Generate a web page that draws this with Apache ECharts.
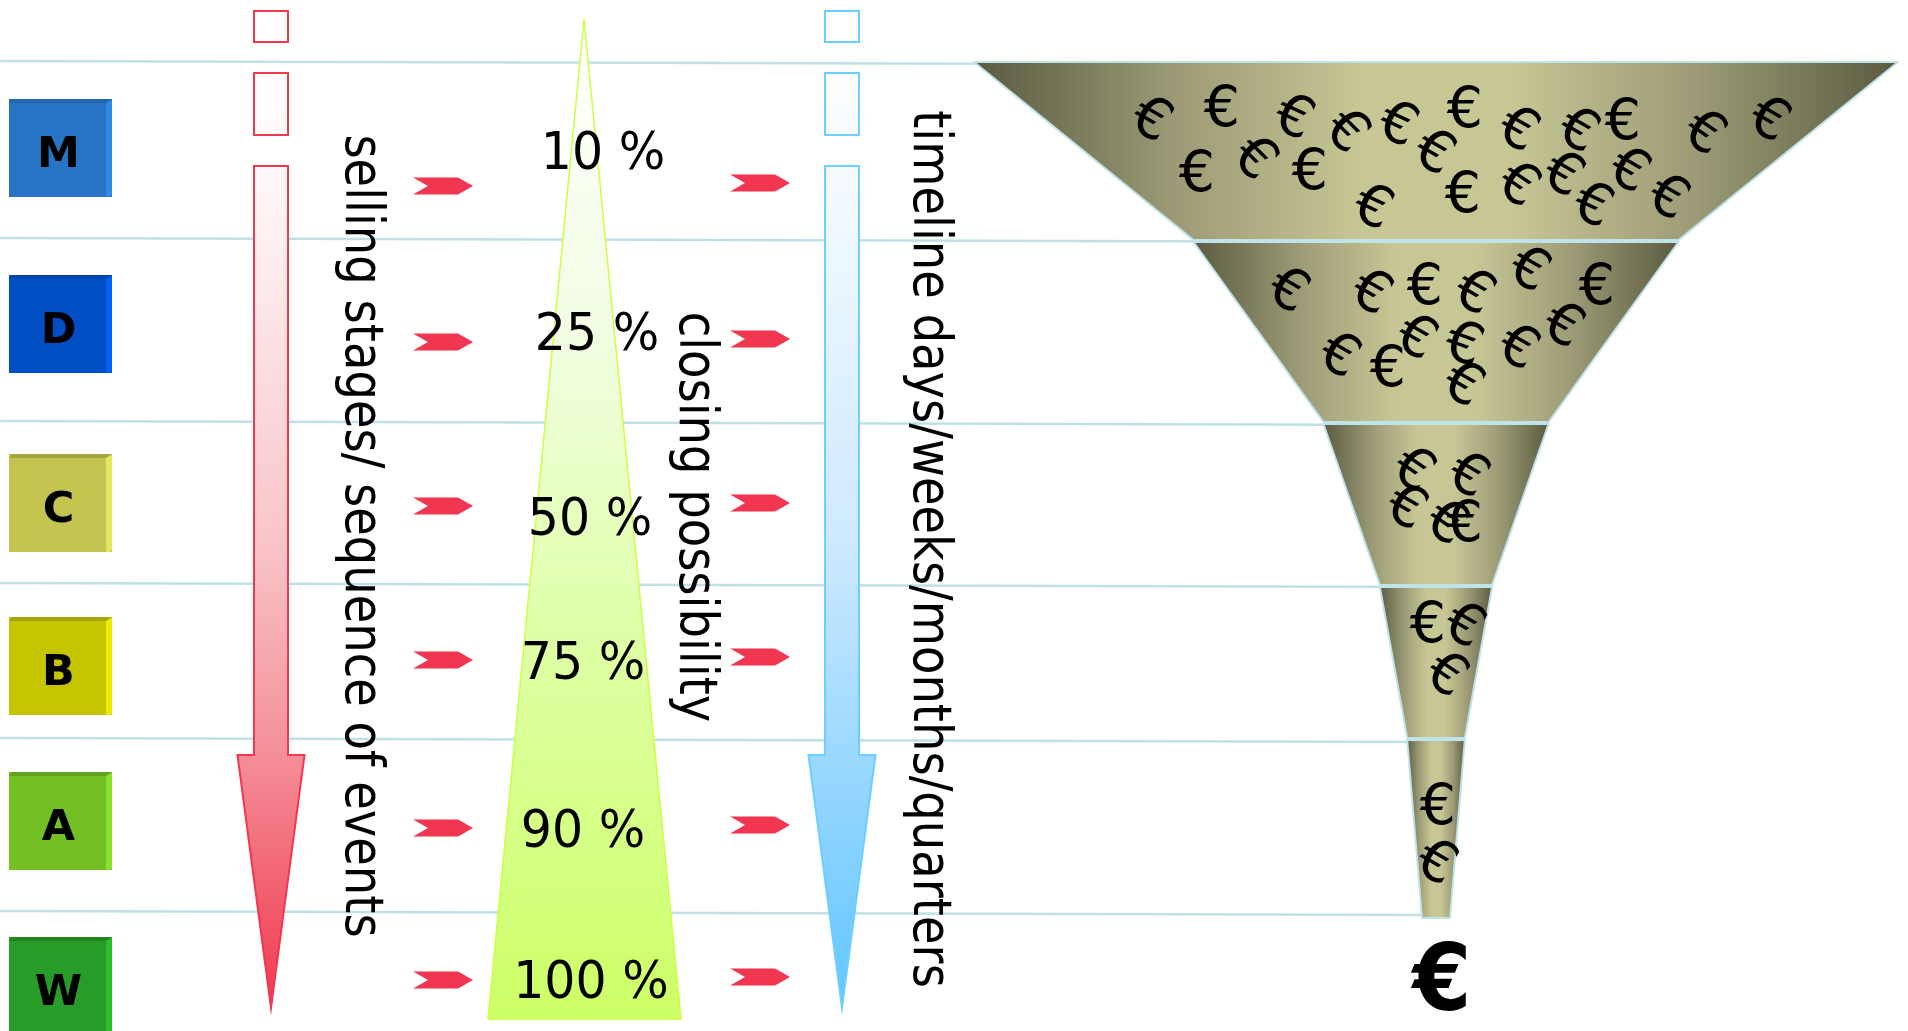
<!DOCTYPE html>
<html>
<head>
<meta charset="utf-8">
<title>Sales funnel</title>
<script src="https://cdn.jsdelivr.net/npm/echarts@6/dist/echarts.min.js"></script>
<style>
  html, body { margin: 0; padding: 0; background: #ffffff; }
  #chart { width: 1908px; height: 1031px; }
</style>
</head>
<body>
<div id="chart"></div>
<script>
// ---- data ----------------------------------------------------------------
// Selling stages, first contact (M) down to the won deal (W)
const STAGES = ['M', 'D', 'C', 'B', 'A', 'W'];
// Closing possibility per stage, in percent
const CLOSING = [10, 25, 50, 75, 90, 100];
// Pipeline volume per funnel segment (relative, M = 100)
const FUNNEL_STAGES = ['M', 'D', 'C', 'B', 'A'];
const FUNNEL_VOLUME = [100, 51, 22, 9.4, 3.3];
// Column captions
const CAPTION_STAGES = 'selling stages/ sequence of events';
const CAPTION_CLOSING = 'closing possibility';
const CAPTION_TIME = 'timeline days/weeks/months/quarters';
// Deals inside the funnel: [x, y, tilt in degrees] in diagram units
const DEALS = [
  [1150, 122, -30], [1222, 112, 0], [1293, 120, -25], [1197, 177, 0], [1253, 160, -45],
  [1310, 175, 0], [1345, 133, -45], [1397, 127, -25], [1433, 155, -30], [1465, 113, 0],
  [1372, 210, -25], [1463, 198, 0], [1517, 132, -30], [1577, 133, -30], [1623, 125, 0],
  [1703, 135, -35], [1768, 122, -30], [1517, 187, -35], [1562, 177, -30], [1592, 208, -25],
  [1628, 173, -30], [1667, 200, -30],
  [1287, 293, -30], [1370, 295, -30], [1425, 290, 0], [1473, 295, -30], [1528, 272, -30],
  [1597, 290, 0], [1338, 358, -30], [1388, 372, 0], [1415, 340, -30], [1463, 347, -20],
  [1462, 387, -30], [1517, 350, -30], [1562, 328, -30],
  [1412, 472, -35], [1467, 478, -30], [1405, 510, -30], [1445, 525, -35], [1465, 527, 0],
  [1428, 628, 0], [1463, 628, -30], [1445, 677, -35],
  [1438, 810, 0], [1435, 865, -30]
];
// The closed deal under the funnel
const WON = [[1442, 986]];

// ---- layout --------------------------------------------------------------
const VIEW_W = 1908, VIEW_H = 1031;
const FUNNEL = { left: 974, top: 62, width: 924, neck: 28, gap: 2, cx: 1436 };
const SEG_HEIGHTS = [178, 180, 161, 151, 178];
const RULE_Y = [64, 241, 424, 586, 741, 914];
const BOX = { x: 9, w: 103, h: 98 };
const BOX_TOP = [99, 275, 454, 617, 772, 937];
const CHEVRON_X = [413, 730];
const CHEVRON_Y = [186, 342, 506, 660, 828, 980];
const CHEVRON_SHIFT = [0, -3];
const PCT_POS = [[603, 156], [597, 337], [590, 522], [583, 666], [583, 834], [591, 985]];
const ARROW = { w: 34, cap1: [11, 42], cap2: [73, 135], shaftTop: 166, headTop: 755, headHalf: 33.5, tip: 1008 };
const GUIDES = [
  { x: 254, stroke: '#f0384f', stops: [[0, '#fefafa'], [0.45, '#f8c4c9'], [0.7, '#f48e97'], [1, '#f0384f']] },
  { x: 825, stroke: '#6ccfff', stops: [[0, '#f6fbff'], [0.45, '#cde9ff'], [0.7, '#9bd8ff'], [1, '#62c6ff']] }
];
const TRIANGLE = { apex: [584, 19], base: [[681, 1019], [488, 1019]] };
const CAPTIONS = [
  { text: CAPTION_STAGES, x: 360, y: 536 },
  { text: CAPTION_CLOSING, x: 694, y: 517 },
  { text: CAPTION_TIME, x: 928, y: 549 }
];

// ---- styles --------------------------------------------------------------
const FONT = '"DejaVu Sans", Verdana, sans-serif';
const RULE_COLOR = '#bfe1e6';
const BOX_COLORS = [
  { main: '#2873c3', top: '#2465ae', side: '#2f8ae6' },
  { main: '#004ec4', top: '#0045ae', side: '#0062f0' },
  { main: '#c4c450', top: '#a6a63e', side: '#e6e65e' },
  { main: '#c4c400', top: '#a6a400', side: '#ecec00' },
  { main: '#74c024', top: '#60a21c', side: '#88e22a' },
  { main: '#289c28', top: '#218421', side: '#2cbc2c' }
];
const CHEVRON_COLOR = '#f0374f';
const FUNNEL_FILL = {
  type: 'linear', x: 0, y: 0, x2: 1, y2: 0,
  colorStops: [
    { offset: 0, color: '#5a5a40' }, { offset: 0.22, color: '#9c9b76' },
    { offset: 0.42, color: '#c7c695' }, { offset: 0.58, color: '#c7c695' },
    { offset: 0.78, color: '#9c9b76' }, { offset: 1, color: '#5a5a40' }
  ]
};

function vGradient(stops) {
  return new echarts.graphic.LinearGradient(0, 0, 0, 1,
    stops.map(([offset, color]) => ({ offset, color })));
}

// ---- render helpers ------------------------------------------------------
function at(api) {
  return (x, y) => api.coord([x, y]);
}

function renderRule(params, api) {
  const P = at(api);
  const y = RULE_Y[params.dataIndex];
  const a = P(0, y - 3), b = P(FUNNEL.cx, y + 1);
  return {
    type: 'line',
    shape: { x1: a[0], y1: a[1], x2: b[0], y2: b[1] },
    style: { stroke: RULE_COLOR, lineWidth: 2.5 }
  };
}

function renderGuides(params, api) {
  const P = at(api);
  const children = [];
  GUIDES.forEach(g => {
    const x0 = g.x, x1 = g.x + ARROW.w, mid = g.x + ARROW.w / 2;
    const rect = (y0, y1) => [P(x0, y0), P(x1, y0), P(x1, y1), P(x0, y1)];
    children.push({ type: 'polygon', shape: { points: rect(ARROW.cap1[0], ARROW.cap1[1]) },
      style: { fill: '#ffffff', stroke: g.stroke, lineWidth: 2 } });
    children.push({ type: 'polygon', shape: { points: rect(ARROW.cap2[0], ARROW.cap2[1]) },
      style: { fill: vGradient([[0, '#ffffff'], [1, g.stops[0][1]]]), stroke: g.stroke, lineWidth: 2 } });
    children.push({
      type: 'polygon',
      shape: { points: [
        P(x0, ARROW.shaftTop), P(x1, ARROW.shaftTop), P(x1, ARROW.headTop),
        P(mid + ARROW.headHalf, ARROW.headTop), P(mid, ARROW.tip),
        P(mid - ARROW.headHalf, ARROW.headTop), P(x0, ARROW.headTop)
      ] },
      style: { fill: vGradient(g.stops), stroke: g.stroke, lineWidth: 2, lineJoin: 'miter' }
    });
  });
  children.push({
    type: 'polygon',
    shape: { points: [P(...TRIANGLE.apex), P(...TRIANGLE.base[0]), P(...TRIANGLE.base[1])] },
    style: {
      fill: vGradient([[0, '#ffffff'], [0.3, '#f2fde4'], [0.6, '#e0ffaa'], [1, '#ccff66']]),
      stroke: '#ccff44', lineWidth: 1.5
    }
  });
  return { type: 'group', children };
}

function renderBox(params, api) {
  const P = at(api);
  const i = params.dataIndex;
  const c = BOX_COLORS[i];
  const x0 = BOX.x, x1 = BOX.x + BOX.w, y0 = BOX_TOP[i], y1 = y0 + BOX.h;
  const centre = P((x0 + x1) / 2 - 2, (y0 + y1) / 2 + 8);
  return {
    type: 'group',
    children: [
      { type: 'polygon', shape: { points: [P(x0, y0), P(x1, y0), P(x1, y1), P(x0, y1)] }, style: { fill: c.main } },
      { type: 'polygon', shape: { points: [P(x0, y0 + 4), P(x0 + 3, y0), P(x1 - 1, y0), P(x1 - 6, y0 + 4)] }, style: { fill: c.top } },
      { type: 'polygon', shape: { points: [P(x1 - 6, y0 + 4), P(x1, y0 + 1), P(x1, y1 - 2), P(x1 - 2, y1), P(x1 - 6, y1)] }, style: { fill: c.side } },
      {
        type: 'text', x: centre[0], y: centre[1],
        style: { text: STAGES[i], font: 'bold 43px ' + FONT, fill: '#000000', align: 'center', verticalAlign: 'middle' }
      }
    ]
  };
}

function renderChevrons(params, api) {
  const P = at(api);
  const i = params.dataIndex;
  const children = CHEVRON_X.map((x, k) => {
    const y = CHEVRON_Y[i] + CHEVRON_SHIFT[k];
    return {
      type: 'polygon',
      shape: { points: [P(x, y - 8.5), P(x + 45, y - 8.5), P(x + 60, y), P(x + 45, y + 8.5), P(x, y + 8.5), P(x + 15, y)] },
      style: { fill: CHEVRON_COLOR }
    };
  });
  return { type: 'group', children };
}

function renderPercent(params, api) {
  const P = at(api);
  const i = params.dataIndex;
  const p = P(PCT_POS[i][0], PCT_POS[i][1]);
  return {
    type: 'text', x: p[0], y: p[1], scaleY: 1.06,
    style: { text: CLOSING[i] + ' %', font: '49px ' + FONT, fill: '#000000', align: 'center', verticalAlign: 'middle' }
  };
}

function renderCaption(params, api) {
  const P = at(api);
  const c = CAPTIONS[params.dataIndex];
  const p = P(c.x, c.y);
  return {
    type: 'text', x: p[0], y: p[1], rotation: -Math.PI / 2, scaleX: 0.86,
    style: { text: c.text, font: '54px ' + FONT, fill: '#000000', align: 'center', verticalAlign: 'middle' }
  };
}

function renderDeal(params, api) {
  const p = api.coord([api.value(0), api.value(1)]);
  return {
    type: 'text', x: p[0], y: p[1], rotation: api.value(2) * Math.PI / 180,
    style: { text: '€', font: '57px ' + FONT, fill: '#000000', align: 'center', verticalAlign: 'middle' }
  };
}

function renderWon(params, api) {
  const p = api.coord([api.value(0), api.value(1)]);
  return {
    type: 'text', x: p[0], y: p[1], scaleX: 0.92,
    style: { text: '€', font: 'bold 92px ' + FONT, fill: '#000000', align: 'center', verticalAlign: 'middle' }
  };
}

// ---- chart ---------------------------------------------------------------
const chart = echarts.init(document.getElementById('chart'), null, { renderer: 'canvas' });

const common = { type: 'custom', coordinateSystem: 'cartesian2d', silent: true, clip: false, animation: false };

chart.setOption({
  backgroundColor: '#ffffff',
  animation: false,
  grid: { left: 0, top: 0, right: 0, bottom: 0 },
  xAxis: { type: 'value', min: 0, max: VIEW_W, show: false },
  yAxis: { type: 'value', min: 0, max: VIEW_H, inverse: true, show: false },
  series: [
    Object.assign({}, common, { name: 'rules', z: 1, renderItem: renderRule,
      data: RULE_Y.map((y, i) => [i, y]) }),
    Object.assign({}, common, { name: 'guides', z: 2, renderItem: renderGuides, data: [[0, 0]] }),
    Object.assign({}, common, { name: 'stages', z: 3, renderItem: renderBox,
      data: STAGES.map((s, i) => ({ name: s, value: [i, CLOSING[i]] })) }),
    Object.assign({}, common, { name: 'steps', z: 3, renderItem: renderChevrons,
      data: STAGES.map((s, i) => ({ name: s, value: [i, CLOSING[i]] })) }),
    Object.assign({}, common, { name: 'closing', z: 4, renderItem: renderPercent,
      data: STAGES.map((s, i) => ({ name: s, value: [i, CLOSING[i]] })) }),
    Object.assign({}, common, { name: 'captions', z: 4, renderItem: renderCaption,
      data: CAPTIONS.map((c, i) => [i, 0]) }),
    {
      type: 'funnel',
      name: 'pipeline',
      z: 5,
      silent: true,
      animation: false,
      left: FUNNEL.left,
      top: FUNNEL.top,
      width: FUNNEL.width,
      height: SEG_HEIGHTS.reduce((a, b) => a + b, 0) + FUNNEL.gap * (SEG_HEIGHTS.length - 1),
      sort: 'none',
      funnelAlign: 'center',
      gap: FUNNEL.gap,
      min: 0,
      max: 100,
      minSize: FUNNEL.neck,
      maxSize: FUNNEL.width,
      label: { show: false },
      labelLine: { show: false },
      emphasis: { disabled: true },
      itemStyle: { color: FUNNEL_FILL, borderColor: '#bfe3e9', borderWidth: 2 },
      data: FUNNEL_STAGES.map((s, i) => ({
        name: s, value: FUNNEL_VOLUME[i], itemStyle: { height: SEG_HEIGHTS[i] }
      }))
    },
    Object.assign({}, common, { name: 'deals', z: 6, renderItem: renderDeal,
      encode: { x: 0, y: 1 }, data: DEALS }),
    Object.assign({}, common, { name: 'won', z: 6, renderItem: renderWon,
      encode: { x: 0, y: 1 }, data: WON })
  ]
});
</script>
</body>
</html>
